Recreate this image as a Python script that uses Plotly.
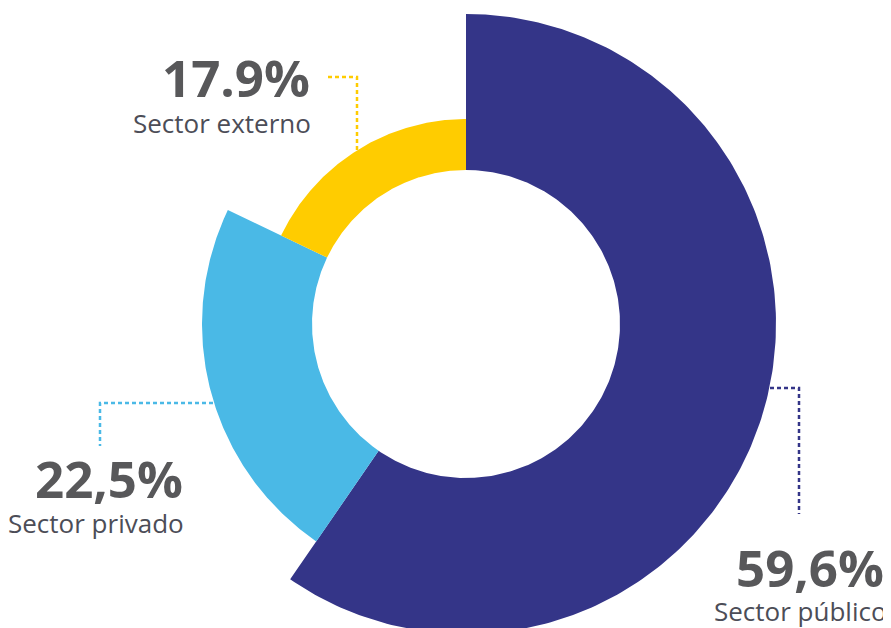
import numpy as np
import plotly.graph_objects as go

# ---- data ----
categories = ["Sector público", "Sector privado", "Sector externo"]
shares = [59.6, 22.5, 17.9]
value_labels = ["59,6%", "22,5%", "17.9%"]

# ---- style ----
colors = ["#343588", "#4ab9e6", "#ffcc00"]
INNER = 154
OUTER = [310, 264, 205]
TXT_BOLD = "#58585a"
TXT_REG = "#4c4d57"

W, H = 883, 620   # page body has an 8px margin inside the 891x628 window
OFF = 8

fig = go.Figure()

start = 0.0
for cat, s, col, ro in zip(categories, shares, colors, OUTER):
    end = start + s / 100 * 360
    a = np.radians(np.linspace(start, end, 240))
    xs = np.concatenate([ro * np.sin(a), INNER * np.sin(a[::-1])])
    ys = np.concatenate([ro * np.cos(a), INNER * np.cos(a[::-1])])
    fig.add_trace(go.Scatter(x=np.append(xs, xs[0]), y=np.append(ys, ys[0]),
                             fill="toself", fillcolor=col, mode="lines",
                             line=dict(width=0, color=col), name=cat,
                             hoverinfo="name"))
    start = end

CX, CY = 466 - OFF, 324 - OFF  # centre of ring (pixels from figure top-left)


def P(px, py):
    return (px - OFF) - CX, CY - (py - OFF)


# leader lines (window pixel frame), one per category
leaders = {
    "Sector público": [(770, 388), (799, 388), (799, 514)],
    "Sector privado": [(213, 403), (100, 403), (100, 446)],
    "Sector externo": [(328, 77), (357, 77), (357, 150)],
}
for cat, col in zip(categories, colors):
    pts = [P(*p) for p in leaders[cat]]
    fig.add_trace(go.Scatter(x=[p[0] for p in pts], y=[p[1] for p in pts],
                             mode="lines", line=dict(color=col, width=2.5, dash="4px,3px"),
                             hoverinfo="skip"))

label_pos = {
    "Sector público": ((886, 567), (889, 611)),
    "Sector privado": ((185, 478), (186, 523)),
    "Sector externo": ((312, 77), (313, 123)),
}
for cat, lab in zip(categories, value_labels):
    (vx, vy), (nx, ny) = label_pos[cat]
    x, y = P(vx, vy)
    fig.add_annotation(x=x, y=y, text=f"<b>{lab}</b>", showarrow=False,
                       xanchor="right", yanchor="middle",
                       font=dict(family="Open Sans", size=51, color=TXT_BOLD))
    x, y = P(nx, ny)
    fig.add_annotation(x=x, y=y, text=cat, showarrow=False,
                       xanchor="right", yanchor="middle",
                       font=dict(family="Open Sans", size=26, color=TXT_REG))

fig.update_layout(
    width=W, height=H,
    margin=dict(l=0, r=0, t=0, b=0),
    paper_bgcolor="white", plot_bgcolor="white",
    showlegend=False,
    xaxis=dict(range=[-CX, W - CX], visible=False, fixedrange=True),
    yaxis=dict(range=[CY - H, CY], visible=False, fixedrange=True),
)

fig.write_html("out.html")
